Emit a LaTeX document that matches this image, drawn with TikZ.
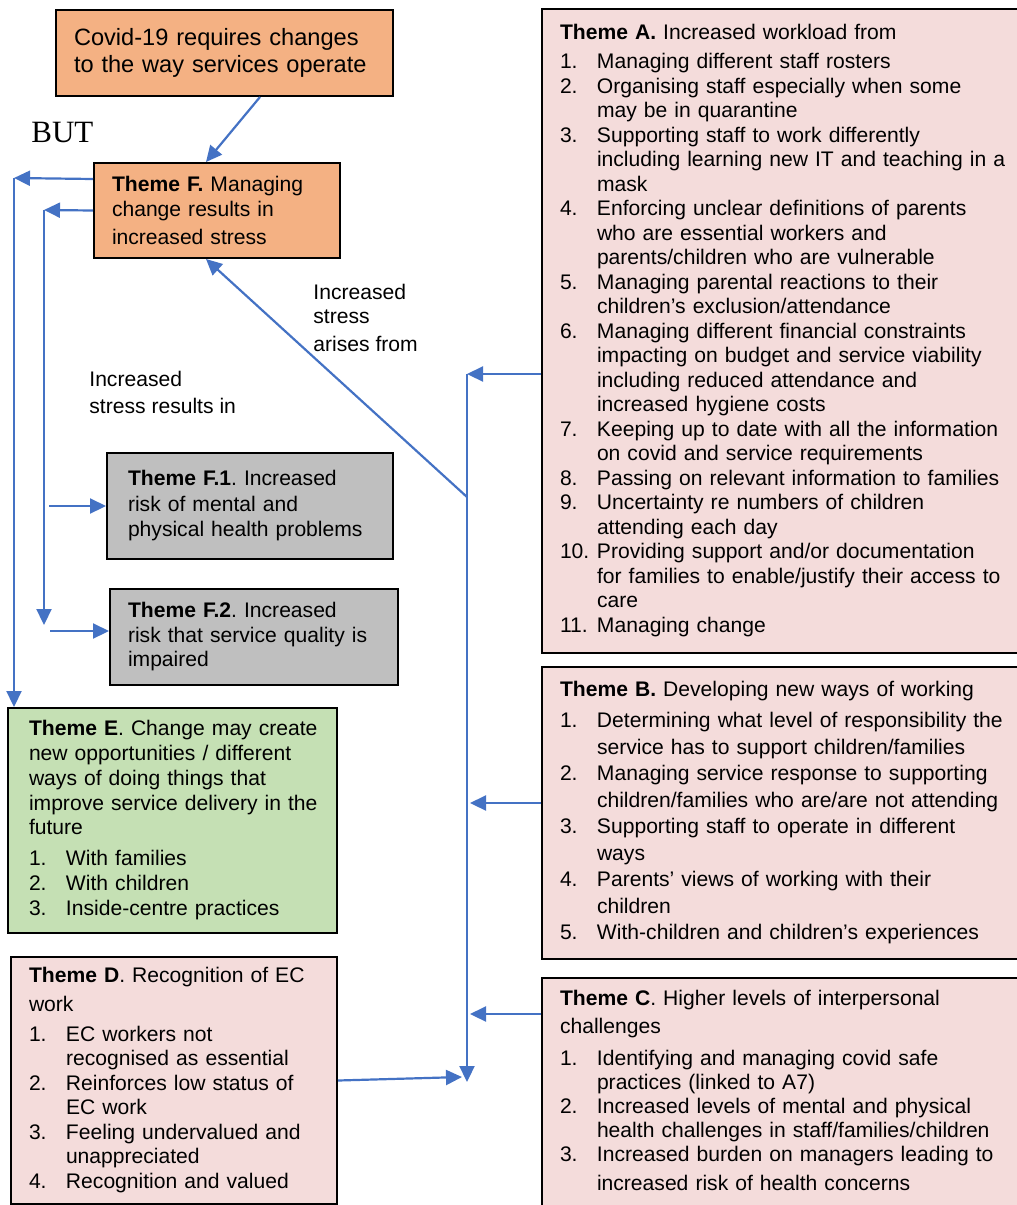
\documentclass[tikz,border=0pt]{standalone}
\usepackage{fontspec}
\setmainfont{Liberation Sans}
\newfontfamily\butfont{Liberation Serif}
\usetikzlibrary{arrows.meta}
\usetikzlibrary{positioning}
\usetikzlibrary{calc}

\definecolor{themeorange}{HTML}{F4B183}
\definecolor{themegrey}{HTML}{BFBFBF}
\definecolor{themegreen}{HTML}{C5E0B4}
\definecolor{themepink}{HTML}{F4DCDB}
\definecolor{flowblue}{HTML}{4472C4}

\newcommand{\hd}[1]{\multicolumn{2}{@{}l@{}}{#1}}
\newcommand{\txtsize}[1]{\fontsize{10.55}{#1}\selectfont}

\tikzset{
  theme/.style={draw=black, line width=1pt, anchor=north west, inner xsep=9pt, inner ysep=0pt, align=left},
  flow/.style={draw=flowblue, line width=1.1pt, -{Triangle[length=8pt,width=7.5pt]}},
}

\frenchspacing

\begin{document}
\begin{tikzpicture}[x=0.5pt,y=-0.5pt]
\useasboundingbox (0,0) rectangle (1017,1205);
\clip (0,0) rectangle (1017,1205);

% left column
\node[theme, fill=themeorange, text width=150.5pt, minimum height=43pt, font=\fontsize{11.8}{13.5}\selectfont] (covid) at (55,9) {Covid-19 requires changes\\to the way services operate};

\node[anchor=base west, inner sep=0pt, font=\butfont\fontsize{15.5}{18}\selectfont] (but) at (31,142) {BUT};

\node[theme, fill=themeorange, text width=105pt, minimum height=47.5pt, font=\txtsize{12.5}] (thF) at (93,162) {\textbf{Theme F.} Managing\\change results in\\[1.5pt]increased stress};

\node[theme, fill=themegrey, inner xsep=10.5pt, text width=122pt, minimum height=53pt, font=\txtsize{12.75}] (thF1) at (106,452) {\textbf{Theme F.1}. Increased\\risk of mental and\\physical health problems};

\node[theme, fill=themegrey, text width=126pt, minimum height=48pt, font=\txtsize{12.25}] (thF2) at (109,588) {\textbf{Theme F.2}. Increased\\risk that service quality is\\impaired};

\node[theme, fill=themegreen, inner xsep=10.5pt, text width=143.5pt, minimum height=112.5pt, font=\txtsize{12.4}] (thE) at (7,707) {\begin{tabular}{@{}p{18.5pt}@{}l@{}}
\hd{\textbf{Theme E}. Change may create}\\
\hd{new opportunities / different}\\
\hd{ways of doing things that}\\
\hd{improve service delivery in the}\\
\hd{future}\\[3pt]
1. & With families\\
2. & With children\\
3. & Inside-centre practices
\end{tabular}};

\node[theme, fill=themepink, text width=145pt, minimum height=123.5pt, font=\txtsize{12.25}] (thD) at (10,956) {\begin{tabular}{@{}p{18.5pt}@{}l@{}}
\hd{\textbf{Theme D}. Recognition of EC}\\[2.25pt]
\hd{work}\\[2.75pt]
1. & EC workers not\\
   & recognised as essential\\
2. & Reinforces low status of\\
   & EC work\\
3. & Feeling undervalued and\\
   & unappreciated\\
4. & Recognition and valued
\end{tabular}};

% right column
\node[theme, fill=themepink, text width=227pt, minimum height=322pt, font=\txtsize{12.25}] (thA) at (541,8) {\begin{tabular}{@{}p{18.5pt}@{}l@{}}
\hd{\textbf{Theme A.} Increased workload from}\\[2.25pt]
1. & Managing different staff rosters\\
2. & Organising staff especially when some\\
   & may be in quarantine\\
3. & Supporting staff to work differently\\
   & including learning new IT and teaching in a\\
   & mask\\
4. & Enforcing unclear definitions of parents\\
   & who are essential workers and\\
   & parents/children who are vulnerable\\
5. & Managing parental reactions to their\\
   & children’s exclusion/attendance\\
6. & Managing different financial constraints\\
   & impacting on budget and service viability\\
   & including reduced attendance and\\
   & increased hygiene costs\\
7. & Keeping up to date with all the information\\
   & on covid and service requirements\\
8. & Passing on relevant information to families\\
9. & Uncertainty re numbers of children\\
   & attending each day\\
10. & Providing support and/or documentation\\
   & for families to enable/justify their access to\\
   & care\\
11. & Managing change
\end{tabular}};

\node[theme, fill=themepink, text width=227pt, minimum height=146pt, font=\txtsize{13.25}] (thB) at (541,666) {\begin{tabular}{@{}p{18.5pt}@{}l@{}}
\hd{\textbf{Theme B.} Developing new ways of working}\\[2.25pt]
1. & Determining what level of responsibility the\\
   & service has to support children/families\\
2. & Managing service response to supporting\\
   & children/families who are/are not attending\\
3. & Supporting staff to operate in different\\
   & ways\\
4. & Parents’ views of working with their\\
   & children\\
5. & With-children and children’s experiences
\end{tabular}};

\node[theme, fill=themepink, text width=227pt, minimum height=115pt, font=\txtsize{12}] (thC) at (541,977) {\begin{tabular}{@{}p{18.5pt}@{}l@{}}
\hd{\textbf{Theme C}. Higher levels of interpersonal}\\[2pt]
\hd{challenges}\\[4pt]
1. & Identifying and managing covid safe\\
   & practices (linked to A7)\\
2. & Increased levels of mental and physical\\
   & health challenges in staff/families/children\\
3. & Increased burden on managers leading to\\[2.5pt]
   & increased risk of health concerns
\end{tabular}};

% labels
\node[anchor=north west, inner sep=0pt, align=left, font=\txtsize{11.75}] (arises) at (313,284) {Increased\\stress\\[2.5pt]arises from};
\node[anchor=north west, inner sep=0pt, align=left, font=\txtsize{13.5}] (results) at (89,371) {Increased\\stress results in};

% connectors
\coordinate (outer) at (14,178);
\coordinate (inner) at (44,210);
\coordinate (innerEnd) at (44,625);
\coordinate (busTop) at (467,374);
\coordinate (busMid) at (467,497);
\coordinate (busBot) at (467,1082);
\coordinate (busB) at (470,803);
\coordinate (busC) at (470,1014);
\coordinate (busD) at (462,1077);

\draw[flow] ([xshift=17.75pt]covid.south) -- ([xshift=-5.5pt]thF.north);

\draw[flow] ([yshift=15.75pt]thF.west) -- (outer);
\draw[flow] (outer) -- (outer |- thE.north);
\draw[flow] (thF.west) -- (inner);
\draw[flow] (inner) -- (innerEnd);
\draw[flow] ($(inner |- thF1.west)+(5,0)$) -- (thF1.west);
\draw[flow] ($(inner |- thF2.west)+(6,-6)$) -- ($(thF2.west)+(0,-6)$);

\draw[flow] (busTop) -- (busBot);
\draw[flow] (thA.west |- busTop) -- (busTop);
\draw[flow] (busMid) -- ([xshift=-5.5pt]thF.south);
\draw[flow] (thB.west |- busB) -- (busB);
\draw[flow] (thC.west |- busC) -- (busC);
\draw[flow] (thD.east) -- (busD);

\end{tikzpicture}
\end{document}
